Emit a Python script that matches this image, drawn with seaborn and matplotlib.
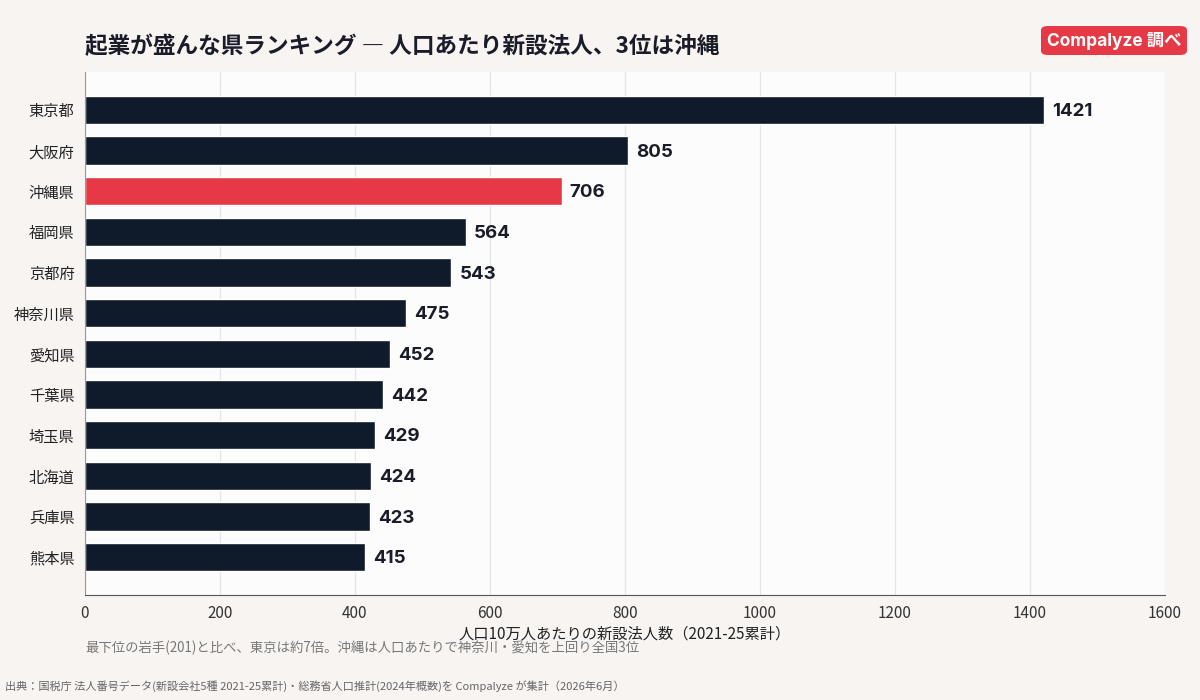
import matplotlib
matplotlib.use('Agg')
import pandas as pd
import matplotlib.pyplot as plt
import seaborn as sns
from matplotlib.patches import FancyBboxPatch

# data
prefectures = ['東京都', '大阪府', '沖縄県', '福岡県', '京都府', '神奈川県',
               '愛知県', '千葉県', '埼玉県', '北海道', '兵庫県', '熊本県']
values = [1421, 805, 706, 564, 543, 475, 452, 442, 429, 424, 423, 415]
highlight = '沖縄県'

title = '起業が盛んな県ランキング ― 人口あたり新設法人、3位は沖縄'
xlabel = '人口10万人あたりの新設法人数（2021-25累計）'
note = '最下位の岩手(201)と比べ、東京は約7倍。沖縄は人口あたりで神奈川・愛知を上回り全国3位'
source = '出典：国税庁 法人番号データ(新設会社5種 2021-25累計)・総務省人口推計(2024年概数)を Compalyze が集計（2026年6月）'
badge = 'Compalyze 調べ'

df = pd.DataFrame({'pref': prefectures, 'value': values})

NAVY = '#0f1a2b'
RED = '#e63946'
palette = {p: (RED if p == highlight else NAVY) for p in prefectures}

sns.set_style('white')
plt.rcParams['font.family'] = ['Noto Sans CJK JP', 'DejaVu Sans']
LATIN = ['Inter', 'Noto Sans CJK JP', 'DejaVu Sans']

fig = plt.figure(figsize=(12, 7), dpi=100, facecolor='#f8f4f1')
ax = fig.add_axes([0.0708, 0.15, 0.9, 0.747])
ax.set_facecolor('#fdfcfd')

sns.barplot(data=df, y='pref', x='value', hue='pref', palette=palette,
            legend=False, width=0.7, saturation=1, ax=ax)

# value labels
for i, v in enumerate(values):
    ax.text(v + 12, i + 0.04, str(v), va='center', ha='left', fontsize=13.5,
            fontweight='bold', color='#1a1d29', family=LATIN)

ax.set_xlim(0, 1600)
ax.set_ylim(11.93, -0.93)
ax.set_xticks(range(0, 1601, 200))
ax.grid(axis='x', color='#e4e4ea', linewidth=1)
ax.set_axisbelow(True)
for s in ['top', 'right']:
    ax.spines[s].set_visible(False)
ax.spines['left'].set_color('#999999')
ax.spines['bottom'].set_color('#555555')
ax.tick_params(axis='y', length=4, color='#333333', labelsize=11, labelcolor='#222222')
ax.tick_params(axis='x', length=4, color='#555555', labelsize=11, labelcolor='#333333')
ax.set_ylabel('')
ax.set_xlabel(xlabel, fontsize=11, color='#222222', labelpad=2)

fig.text(85 / 1200, 1 - 47 / 700, title, fontsize=16.3, fontweight='bold',
         color='#1a1d29', va='center', ha='left')
fig.text(85 / 1200, 1 - 648 / 700, note, fontsize=9.6, color='#777777',
         va='center', ha='left')
fig.text(5 / 1200, 1 - 686 / 700, source, fontsize=8, color='#666666',
         va='center', ha='left')

# badge
box = FancyBboxPatch((1041 / 1200, 1 - 55 / 700), 146 / 1200, 29 / 700,
                     boxstyle='round,pad=0,rounding_size=0.006',
                     transform=fig.transFigure, facecolor=RED, edgecolor='none')
fig.patches.append(box)
fig.text(1114 / 1200, 1 - 41.5 / 700, badge, fontsize=12.5, fontweight='bold',
         color='white', va='center', ha='center', family=LATIN)

fig.savefig('out.png', dpi=100, facecolor=fig.get_facecolor())
